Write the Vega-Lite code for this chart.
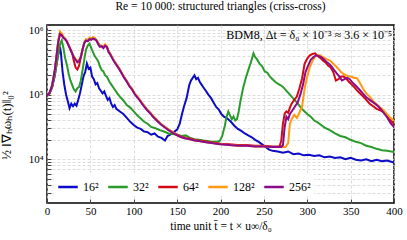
{
"$schema":"https://vega.github.io/schema/vega-lite/v6.json",
"width":347,"height":178,
"autosize":{"type":"none"},
"padding":{"left":47,"top":25,"right":13,"bottom":37},
"title":{"text":"Re = 10 000: structured triangles (criss-cross)","fontSize":11.5,"fontWeight":"normal","font":"Liberation Serif","offset":12,"color":"black"},
"config":{
"font":"Liberation Serif",
"view":{"stroke":"black","strokeWidth":1.5},
"axis":{"domain":false,"labelFont":"Liberation Serif","labelFontSize":11,"labelColor":"black","titleFont":"Liberation Serif","titleFontSize":11.5,"titleFontWeight":"normal","titleColor":"black","gridColor":"#d4d4d4","gridDash":[3,2],"gridWidth":0.8,"tickColor":"#444","tickSize":-4,"labelFlush":false,"labelOverlap":false}
},
"layer":[
{
"data":{"values":[
{"s":"16²","t":0,"v":95500},{"s":"16²","t":3,"v":104700},{"s":"16²","t":6,"v":131800},{"s":"16²","t":9,"v":199500},{"s":"16²","t":12,"v":354800},{"s":"16²","t":14,"v":501200},{"s":"16²","t":15,"v":549500},{"s":"16²","t":16,"v":446700},{"s":"16²","t":18,"v":223900},{"s":"16²","t":20,"v":141300},{"s":"16²","t":22,"v":100000},{"s":"16²","t":24,"v":79400},{"s":"16²","t":26,"v":61700},{"s":"16²","t":28,"v":72400},{"s":"16²","t":30,"v":66100},{"s":"16²","t":32,"v":72400},{"s":"16²","t":34,"v":67600},{"s":"16²","t":36,"v":83200},{"s":"16²","t":38,"v":104700},{"s":"16²","t":40,"v":141300},{"s":"16²","t":42,"v":190500},{"s":"16²","t":44,"v":223900},{"s":"16²","t":46,"v":302000},{"s":"16²","t":48,"v":251200},{"s":"16²","t":50,"v":263000},{"s":"16²","t":52,"v":190500},{"s":"16²","t":54,"v":173800},{"s":"16²","t":56,"v":144500},{"s":"16²","t":58,"v":151400},{"s":"16²","t":60,"v":125900},{"s":"16²","t":62,"v":114800},{"s":"16²","t":64,"v":104700},{"s":"16²","t":66,"v":112200},{"s":"16²","t":68,"v":95500},{"s":"16²","t":70,"v":83200},{"s":"16²","t":72,"v":89100},{"s":"16²","t":74,"v":72400},{"s":"16²","t":76,"v":64600},{"s":"16²","t":78,"v":69200},{"s":"16²","t":80,"v":60300},{"s":"16²","t":84,"v":55000},{"s":"16²","t":88,"v":50100},{"s":"16²","t":92,"v":43700},{"s":"16²","t":96,"v":38000},{"s":"16²","t":100,"v":33900},{"s":"16²","t":104,"v":30900},{"s":"16²","t":108,"v":29500},{"s":"16²","t":112,"v":26900},{"s":"16²","t":116,"v":26300},{"s":"16²","t":120,"v":24000},{"s":"16²","t":124,"v":25100},{"s":"16²","t":128,"v":22400},{"s":"16²","t":132,"v":21400},{"s":"16²","t":136,"v":19500},{"s":"16²","t":139,"v":22900},{"s":"16²","t":142,"v":24000},{"s":"16²","t":146,"v":26300},{"s":"16²","t":150,"v":28800},{"s":"16²","t":153,"v":35500},{"s":"16²","t":156,"v":52500},{"s":"16²","t":158,"v":66100},{"s":"16²","t":161,"v":89100},{"s":"16²","t":164,"v":141300},{"s":"16²","t":166,"v":166000},{"s":"16²","t":168,"v":182000},{"s":"16²","t":170,"v":199500},{"s":"16²","t":172,"v":173800},{"s":"16²","t":174,"v":182000},{"s":"16²","t":176,"v":158500},{"s":"16²","t":178,"v":144500},{"s":"16²","t":180,"v":131800},{"s":"16²","t":183,"v":114800},{"s":"16²","t":186,"v":100000},{"s":"16²","t":189,"v":89100},{"s":"16²","t":192,"v":75900},{"s":"16²","t":195,"v":64600},{"s":"16²","t":198,"v":58900},{"s":"16²","t":201,"v":50100},{"s":"16²","t":204,"v":45700},{"s":"16²","t":208,"v":42700},{"s":"16²","t":212,"v":38000},{"s":"16²","t":216,"v":33100},{"s":"16²","t":220,"v":29500},{"s":"16²","t":224,"v":27500},{"s":"16²","t":228,"v":25100},{"s":"16²","t":232,"v":23400},{"s":"16²","t":236,"v":21900},{"s":"16²","t":240,"v":20000},{"s":"16²","t":244,"v":18600},{"s":"16²","t":248,"v":17000},{"s":"16²","t":252,"v":15500},{"s":"16²","t":256,"v":14100},{"s":"16²","t":260,"v":13500},{"s":"16²","t":266,"v":13200},{"s":"16²","t":272,"v":12600},{"s":"16²","t":278,"v":13200},{"s":"16²","t":284,"v":12000},{"s":"16²","t":290,"v":12300},{"s":"16²","t":296,"v":11500},{"s":"16²","t":302,"v":11700},{"s":"16²","t":308,"v":11200},{"s":"16²","t":314,"v":11500},{"s":"16²","t":320,"v":10700},{"s":"16²","t":326,"v":11000},{"s":"16²","t":332,"v":10500},{"s":"16²","t":338,"v":10700},{"s":"16²","t":344,"v":10000},{"s":"16²","t":350,"v":10500},{"s":"16²","t":356,"v":9800},{"s":"16²","t":362,"v":9550},{"s":"16²","t":368,"v":10000},{"s":"16²","t":374,"v":9330},{"s":"16²","t":380,"v":9800},{"s":"16²","t":386,"v":9330},{"s":"16²","t":392,"v":9550},{"s":"16²","t":400,"v":8910},
{"s":"32²","t":0,"v":95500},{"s":"32²","t":3,"v":104700},{"s":"32²","t":6,"v":131800},{"s":"32²","t":9,"v":199500},{"s":"32²","t":12,"v":354800},{"s":"32²","t":15,"v":602600},{"s":"32²","t":17,"v":691800},{"s":"32²","t":19,"v":524800},{"s":"32²","t":21,"v":363100},{"s":"32²","t":23,"v":288400},{"s":"32²","t":25,"v":208900},{"s":"32²","t":27,"v":166000},{"s":"32²","t":29,"v":141300},{"s":"32²","t":31,"v":120200},{"s":"32²","t":33,"v":112200},{"s":"32²","t":35,"v":125900},{"s":"32²","t":37,"v":131800},{"s":"32²","t":39,"v":166000},{"s":"32²","t":41,"v":239900},{"s":"32²","t":43,"v":354800},{"s":"32²","t":45,"v":501200},{"s":"32²","t":47,"v":575400},{"s":"32²","t":49,"v":616600},{"s":"32²","t":51,"v":524800},{"s":"32²","t":53,"v":457100},{"s":"32²","t":55,"v":398100},{"s":"32²","t":57,"v":363100},{"s":"32²","t":59,"v":331100},{"s":"32²","t":61,"v":275400},{"s":"32²","t":63,"v":239900},{"s":"32²","t":65,"v":229100},{"s":"32²","t":67,"v":199500},{"s":"32²","t":69,"v":190500},{"s":"32²","t":72,"v":158500},{"s":"32²","t":75,"v":138000},{"s":"32²","t":78,"v":120200},{"s":"32²","t":81,"v":104700},{"s":"32²","t":84,"v":93300},{"s":"32²","t":88,"v":81300},{"s":"32²","t":92,"v":69200},{"s":"32²","t":96,"v":63100},{"s":"32²","t":100,"v":55000},{"s":"32²","t":104,"v":47900},{"s":"32²","t":108,"v":42700},{"s":"32²","t":112,"v":38000},{"s":"32²","t":116,"v":35500},{"s":"32²","t":120,"v":31600},{"s":"32²","t":125,"v":30200},{"s":"32²","t":130,"v":28200},{"s":"32²","t":135,"v":26900},{"s":"32²","t":140,"v":25100},{"s":"32²","t":145,"v":24500},{"s":"32²","t":150,"v":24000},{"s":"32²","t":155,"v":22900},{"s":"32²","t":160,"v":23400},{"s":"32²","t":165,"v":21400},{"s":"32²","t":170,"v":20400},{"s":"32²","t":175,"v":20000},{"s":"32²","t":180,"v":19500},{"s":"32²","t":185,"v":19100},{"s":"32²","t":190,"v":18600},{"s":"32²","t":195,"v":18600},{"s":"32²","t":199,"v":19100},{"s":"32²","t":202,"v":22900},{"s":"32²","t":205,"v":33100},{"s":"32²","t":207,"v":45700},{"s":"32²","t":209,"v":55000},{"s":"32²","t":211,"v":47900},{"s":"32²","t":213,"v":41700},{"s":"32²","t":215,"v":45700},{"s":"32²","t":217,"v":39800},{"s":"32²","t":219,"v":41700},{"s":"32²","t":221,"v":55000},{"s":"32²","t":223,"v":79400},{"s":"32²","t":226,"v":125900},{"s":"32²","t":229,"v":177800},{"s":"32²","t":232,"v":239900},{"s":"32²","t":235,"v":316200},{"s":"32²","t":238,"v":436500},{"s":"32²","t":240,"v":380200},{"s":"32²","t":242,"v":354800},{"s":"32²","t":245,"v":302000},{"s":"32²","t":248,"v":275400},{"s":"32²","t":251,"v":229100},{"s":"32²","t":254,"v":218800},{"s":"32²","t":257,"v":190500},{"s":"32²","t":260,"v":173800},{"s":"32²","t":263,"v":158500},{"s":"32²","t":266,"v":147900},{"s":"32²","t":269,"v":141300},{"s":"32²","t":272,"v":131800},{"s":"32²","t":276,"v":114800},{"s":"32²","t":280,"v":100000},{"s":"32²","t":284,"v":87100},{"s":"32²","t":288,"v":75900},{"s":"32²","t":292,"v":64600},{"s":"32²","t":296,"v":56200},{"s":"32²","t":300,"v":50100},{"s":"32²","t":304,"v":45700},{"s":"32²","t":308,"v":39800},{"s":"32²","t":312,"v":37200},{"s":"32²","t":316,"v":33900},{"s":"32²","t":320,"v":30900},{"s":"32²","t":326,"v":28200},{"s":"32²","t":332,"v":25100},{"s":"32²","t":338,"v":22900},{"s":"32²","t":344,"v":21900},{"s":"32²","t":350,"v":20000},{"s":"32²","t":356,"v":18600},{"s":"32²","t":362,"v":17800},{"s":"32²","t":368,"v":16200},{"s":"32²","t":374,"v":15500},{"s":"32²","t":380,"v":14500},{"s":"32²","t":386,"v":13800},{"s":"32²","t":392,"v":13500},{"s":"32²","t":400,"v":12900},
{"s":"64²","t":0,"v":95500},{"s":"64²","t":3,"v":107200},{"s":"64²","t":6,"v":141300},{"s":"64²","t":9,"v":239900},{"s":"64²","t":11,"v":398100},{"s":"64²","t":13,"v":660700},{"s":"64²","t":15,"v":891300},{"s":"64²","t":17,"v":831800},{"s":"64²","t":19,"v":758600},{"s":"64²","t":21,"v":724400},{"s":"64²","t":23,"v":660700},{"s":"64²","t":25,"v":575400},{"s":"64²","t":27,"v":501200},{"s":"64²","t":29,"v":436500},{"s":"64²","t":31,"v":331100},{"s":"64²","t":33,"v":263000},{"s":"64²","t":35,"v":245500},{"s":"64²","t":37,"v":281800},{"s":"64²","t":39,"v":380200},{"s":"64²","t":41,"v":501200},{"s":"64²","t":43,"v":631000},{"s":"64²","t":45,"v":691800},{"s":"64²","t":47,"v":676100},{"s":"64²","t":49,"v":724400},{"s":"64²","t":51,"v":741300},{"s":"64²","t":53,"v":758600},{"s":"64²","t":55,"v":724400},{"s":"64²","t":57,"v":691800},{"s":"64²","t":59,"v":631000},{"s":"64²","t":61,"v":575400},{"s":"64²","t":63,"v":562300},{"s":"64²","t":65,"v":549500},{"s":"64²","t":67,"v":575400},{"s":"64²","t":69,"v":549500},{"s":"64²","t":71,"v":467700},{"s":"64²","t":73,"v":426600},{"s":"64²","t":75,"v":380200},{"s":"64²","t":77,"v":338800},{"s":"64²","t":80,"v":295100},{"s":"64²","t":83,"v":257000},{"s":"64²","t":86,"v":218800},{"s":"64²","t":89,"v":186200},{"s":"64²","t":92,"v":162200},{"s":"64²","t":95,"v":138000},{"s":"64²","t":98,"v":123000},{"s":"64²","t":101,"v":104700},{"s":"64²","t":104,"v":93300},{"s":"64²","t":107,"v":83200},{"s":"64²","t":110,"v":72400},{"s":"64²","t":113,"v":64600},{"s":"64²","t":116,"v":57500},{"s":"64²","t":119,"v":52500},{"s":"64²","t":122,"v":46800},{"s":"64²","t":125,"v":42700},{"s":"64²","t":128,"v":38900},{"s":"64²","t":131,"v":35500},{"s":"64²","t":134,"v":33100},{"s":"64²","t":137,"v":30900},{"s":"64²","t":140,"v":28800},{"s":"64²","t":145,"v":26300},{"s":"64²","t":150,"v":24000},{"s":"64²","t":155,"v":22400},{"s":"64²","t":160,"v":21400},{"s":"64²","t":165,"v":20900},{"s":"64²","t":170,"v":20000},{"s":"64²","t":175,"v":19500},{"s":"64²","t":180,"v":19100},{"s":"64²","t":185,"v":18600},{"s":"64²","t":190,"v":18200},{"s":"64²","t":195,"v":17800},{"s":"64²","t":200,"v":17400},{"s":"64²","t":210,"v":17000},{"s":"64²","t":220,"v":16600},{"s":"64²","t":230,"v":16600},{"s":"64²","t":240,"v":16200},{"s":"64²","t":250,"v":16200},{"s":"64²","t":260,"v":15800},{"s":"64²","t":268,"v":15800},{"s":"64²","t":270,"v":19100},{"s":"64²","t":272,"v":35500},{"s":"64²","t":274,"v":51300},{"s":"64²","t":276,"v":55000},{"s":"64²","t":278,"v":52500},{"s":"64²","t":280,"v":63100},{"s":"64²","t":282,"v":72400},{"s":"64²","t":285,"v":83200},{"s":"64²","t":288,"v":93300},{"s":"64²","t":291,"v":125900},{"s":"64²","t":294,"v":177800},{"s":"64²","t":297,"v":302000},{"s":"64²","t":300,"v":363100},{"s":"64²","t":303,"v":407400},{"s":"64²","t":306,"v":426600},{"s":"64²","t":309,"v":436500},{"s":"64²","t":312,"v":398100},{"s":"64²","t":315,"v":371500},{"s":"64²","t":318,"v":338800},{"s":"64²","t":321,"v":316200},{"s":"64²","t":324,"v":281800},{"s":"64²","t":327,"v":263000},{"s":"64²","t":330,"v":223900},{"s":"64²","t":333,"v":166000},{"s":"64²","t":336,"v":173800},{"s":"64²","t":339,"v":190500},{"s":"64²","t":342,"v":190500},{"s":"64²","t":345,"v":177800},{"s":"64²","t":348,"v":158500},{"s":"64²","t":351,"v":144500},{"s":"64²","t":354,"v":131800},{"s":"64²","t":357,"v":117500},{"s":"64²","t":360,"v":107200},{"s":"64²","t":364,"v":95500},{"s":"64²","t":368,"v":83200},{"s":"64²","t":372,"v":72400},{"s":"64²","t":376,"v":66100},{"s":"64²","t":380,"v":60300},{"s":"64²","t":384,"v":57500},{"s":"64²","t":388,"v":53700},{"s":"64²","t":392,"v":47900},{"s":"64²","t":396,"v":39800},{"s":"64²","t":400,"v":35500},
{"s":"128²","t":0,"v":95500},{"s":"128²","t":3,"v":107200},{"s":"128²","t":6,"v":141300},{"s":"128²","t":9,"v":239900},{"s":"128²","t":11,"v":398100},{"s":"128²","t":13,"v":707900},{"s":"128²","t":15,"v":955000},{"s":"128²","t":17,"v":891300},{"s":"128²","t":19,"v":794300},{"s":"128²","t":21,"v":741300},{"s":"128²","t":23,"v":676100},{"s":"128²","t":25,"v":589000},{"s":"128²","t":27,"v":512900},{"s":"128²","t":29,"v":446700},{"s":"128²","t":31,"v":389000},{"s":"128²","t":33,"v":354800},{"s":"128²","t":35,"v":331100},{"s":"128²","t":37,"v":346700},{"s":"128²","t":39,"v":389000},{"s":"128²","t":41,"v":512900},{"s":"128²","t":43,"v":645700},{"s":"128²","t":45,"v":724400},{"s":"128²","t":47,"v":707900},{"s":"128²","t":49,"v":758600},{"s":"128²","t":51,"v":724400},{"s":"128²","t":53,"v":776200},{"s":"128²","t":55,"v":758600},{"s":"128²","t":57,"v":707900},{"s":"128²","t":59,"v":616600},{"s":"128²","t":61,"v":562300},{"s":"128²","t":63,"v":575400},{"s":"128²","t":65,"v":537000},{"s":"128²","t":67,"v":602600},{"s":"128²","t":69,"v":562300},{"s":"128²","t":71,"v":467700},{"s":"128²","t":73,"v":426600},{"s":"128²","t":75,"v":380200},{"s":"128²","t":77,"v":338800},{"s":"128²","t":80,"v":295100},{"s":"128²","t":83,"v":257000},{"s":"128²","t":86,"v":218800},{"s":"128²","t":89,"v":186200},{"s":"128²","t":92,"v":162200},{"s":"128²","t":95,"v":138000},{"s":"128²","t":98,"v":123000},{"s":"128²","t":101,"v":104700},{"s":"128²","t":104,"v":93300},{"s":"128²","t":107,"v":83200},{"s":"128²","t":110,"v":72400},{"s":"128²","t":113,"v":64600},{"s":"128²","t":116,"v":57500},{"s":"128²","t":119,"v":52500},{"s":"128²","t":122,"v":46800},{"s":"128²","t":125,"v":42700},{"s":"128²","t":128,"v":38900},{"s":"128²","t":131,"v":35500},{"s":"128²","t":134,"v":33100},{"s":"128²","t":137,"v":30900},{"s":"128²","t":140,"v":28800},{"s":"128²","t":145,"v":26300},{"s":"128²","t":150,"v":23400},{"s":"128²","t":155,"v":21900},{"s":"128²","t":160,"v":20900},{"s":"128²","t":165,"v":20400},{"s":"128²","t":170,"v":19500},{"s":"128²","t":175,"v":19100},{"s":"128²","t":180,"v":18600},{"s":"128²","t":185,"v":18200},{"s":"128²","t":190,"v":17800},{"s":"128²","t":195,"v":17400},{"s":"128²","t":200,"v":17000},{"s":"128²","t":210,"v":16600},{"s":"128²","t":220,"v":16200},{"s":"128²","t":230,"v":16200},{"s":"128²","t":240,"v":15800},{"s":"128²","t":250,"v":15800},{"s":"128²","t":260,"v":15500},{"s":"128²","t":270,"v":15500},{"s":"128²","t":275,"v":15500},{"s":"128²","t":278,"v":17800},{"s":"128²","t":280,"v":35500},{"s":"128²","t":282,"v":41700},{"s":"128²","t":285,"v":49000},{"s":"128²","t":288,"v":43700},{"s":"128²","t":291,"v":52500},{"s":"128²","t":294,"v":64600},{"s":"128²","t":297,"v":125900},{"s":"128²","t":300,"v":190500},{"s":"128²","t":303,"v":269200},{"s":"128²","t":306,"v":331100},{"s":"128²","t":309,"v":389000},{"s":"128²","t":312,"v":407400},{"s":"128²","t":315,"v":407400},{"s":"128²","t":318,"v":380200},{"s":"128²","t":321,"v":363100},{"s":"128²","t":324,"v":346700},{"s":"128²","t":327,"v":331100},{"s":"128²","t":330,"v":302000},{"s":"128²","t":333,"v":275400},{"s":"128²","t":336,"v":251200},{"s":"128²","t":339,"v":223900},{"s":"128²","t":342,"v":208900},{"s":"128²","t":345,"v":199500},{"s":"128²","t":348,"v":190500},{"s":"128²","t":351,"v":190500},{"s":"128²","t":354,"v":182000},{"s":"128²","t":357,"v":182000},{"s":"128²","t":360,"v":158500},{"s":"128²","t":364,"v":125900},{"s":"128²","t":368,"v":104700},{"s":"128²","t":372,"v":93300},{"s":"128²","t":376,"v":79400},{"s":"128²","t":380,"v":70800},{"s":"128²","t":384,"v":63100},{"s":"128²","t":388,"v":57500},{"s":"128²","t":392,"v":50100},{"s":"128²","t":396,"v":43700},{"s":"128²","t":400,"v":39800},
{"s":"256²","t":0,"v":95500},{"s":"256²","t":3,"v":107200},{"s":"256²","t":6,"v":141300},{"s":"256²","t":9,"v":239900},{"s":"256²","t":11,"v":398100},{"s":"256²","t":13,"v":660700},{"s":"256²","t":15,"v":871000},{"s":"256²","t":17,"v":831800},{"s":"256²","t":19,"v":758600},{"s":"256²","t":21,"v":724400},{"s":"256²","t":23,"v":660700},{"s":"256²","t":25,"v":575400},{"s":"256²","t":27,"v":501200},{"s":"256²","t":29,"v":436500},{"s":"256²","t":31,"v":380200},{"s":"256²","t":33,"v":346700},{"s":"256²","t":35,"v":316200},{"s":"256²","t":37,"v":331100},{"s":"256²","t":39,"v":380200},{"s":"256²","t":41,"v":501200},{"s":"256²","t":43,"v":631000},{"s":"256²","t":45,"v":691800},{"s":"256²","t":47,"v":676100},{"s":"256²","t":49,"v":724400},{"s":"256²","t":51,"v":707900},{"s":"256²","t":53,"v":741300},{"s":"256²","t":55,"v":724400},{"s":"256²","t":57,"v":691800},{"s":"256²","t":59,"v":602600},{"s":"256²","t":61,"v":549500},{"s":"256²","t":63,"v":562300},{"s":"256²","t":65,"v":524800},{"s":"256²","t":67,"v":575400},{"s":"256²","t":69,"v":549500},{"s":"256²","t":71,"v":457100},{"s":"256²","t":73,"v":416900},{"s":"256²","t":75,"v":371500},{"s":"256²","t":77,"v":331100},{"s":"256²","t":80,"v":288400},{"s":"256²","t":83,"v":251200},{"s":"256²","t":86,"v":213800},{"s":"256²","t":89,"v":182000},{"s":"256²","t":92,"v":158500},{"s":"256²","t":95,"v":134900},{"s":"256²","t":98,"v":120200},{"s":"256²","t":101,"v":102300},{"s":"256²","t":104,"v":91200},{"s":"256²","t":107,"v":81300},{"s":"256²","t":110,"v":70800},{"s":"256²","t":113,"v":63100},{"s":"256²","t":116,"v":56200},{"s":"256²","t":119,"v":51300},{"s":"256²","t":122,"v":45700},{"s":"256²","t":125,"v":41700},{"s":"256²","t":128,"v":38000},{"s":"256²","t":131,"v":34700},{"s":"256²","t":134,"v":32400},{"s":"256²","t":137,"v":30200},{"s":"256²","t":140,"v":28200},{"s":"256²","t":145,"v":25700},{"s":"256²","t":150,"v":23400},{"s":"256²","t":155,"v":21900},{"s":"256²","t":160,"v":20900},{"s":"256²","t":165,"v":20400},{"s":"256²","t":170,"v":19500},{"s":"256²","t":175,"v":19100},{"s":"256²","t":180,"v":18600},{"s":"256²","t":185,"v":18200},{"s":"256²","t":190,"v":17800},{"s":"256²","t":195,"v":17400},{"s":"256²","t":200,"v":17000},{"s":"256²","t":210,"v":16600},{"s":"256²","t":220,"v":16200},{"s":"256²","t":230,"v":16200},{"s":"256²","t":240,"v":15800},{"s":"256²","t":250,"v":15800},{"s":"256²","t":260,"v":15500},{"s":"256²","t":268,"v":15500},{"s":"256²","t":270,"v":15500},{"s":"256²","t":272,"v":16600},{"s":"256²","t":274,"v":31600},{"s":"256²","t":276,"v":45700},{"s":"256²","t":278,"v":41700},{"s":"256²","t":280,"v":50100},{"s":"256²","t":283,"v":57500},{"s":"256²","t":286,"v":66100},{"s":"256²","t":289,"v":75900},{"s":"256²","t":292,"v":100000},{"s":"256²","t":295,"v":141300},{"s":"256²","t":298,"v":223900},{"s":"256²","t":301,"v":281800},{"s":"256²","t":304,"v":346700},{"s":"256²","t":307,"v":380200},{"s":"256²","t":310,"v":407400},{"s":"256²","t":313,"v":398100},{"s":"256²","t":316,"v":380200},{"s":"256²","t":319,"v":354800},{"s":"256²","t":322,"v":323600},{"s":"256²","t":325,"v":302000},{"s":"256²","t":328,"v":275400},{"s":"256²","t":331,"v":239900},{"s":"256²","t":334,"v":213800},{"s":"256²","t":337,"v":190500},{"s":"256²","t":340,"v":166000},{"s":"256²","t":343,"v":173800},{"s":"256²","t":346,"v":182000},{"s":"256²","t":349,"v":173800},{"s":"256²","t":352,"v":154900},{"s":"256²","t":356,"v":138000},{"s":"256²","t":360,"v":120200},{"s":"256²","t":364,"v":104700},{"s":"256²","t":368,"v":91200},{"s":"256²","t":372,"v":83200},{"s":"256²","t":376,"v":75900},{"s":"256²","t":380,"v":69200},{"s":"256²","t":384,"v":61700},{"s":"256²","t":388,"v":52500},{"s":"256²","t":392,"v":44700},{"s":"256²","t":396,"v":36300},{"s":"256²","t":400,"v":31600}
]},
"mark":{"type":"line","strokeWidth":2,"clip":true},
"encoding":{
"x":{"field":"t","type":"quantitative","scale":{"domain":[0,400],"nice":false,"zero":false},"axis":{"values":[0,50,100,150,200,250,300,350,400],"title":"time unit t̄ = t × u∞/δ₀","labelPadding":6,"titlePadding":4}},
"y":{"field":"v","type":"quantitative","scale":{"type":"log","domain":[2100,1200000],"nice":false},"axis":{"values":[3000,4000,5000,6000,7000,8000,9000,10000,20000,30000,40000,50000,60000,70000,80000,90000,100000,200000,300000,400000,500000,600000,700000,800000,900000,1000000],"labelExpr":"datum.value == 10000 ? '10⁴' : datum.value == 100000 ? '10⁵' : datum.value == 1000000 ? '10⁶' : ''","title":"½ ‖∇ₕωₕ(t)‖₀²","titleFontSize":13,"labelPadding":8,"titleX":-34,"titleY":100}},
"color":{"field":"s","type":"nominal","scale":{"domain":["16²","32²","64²","128²","256²"],"range":["#0b0bc8","#2a9a2a","#d20a14","#ff9a10","#8a0a8a"]},"legend":{"title":null,"orient":"bottom-left","direction":"horizontal","offset":7,"fillColor":"white","padding":3,"symbolType":"stroke","symbolStrokeWidth":2.5,"symbolSize":380,"labelFontSize":12,"labelFont":"Liberation Serif","labelColor":"black","columnPadding":4}}
}
},
{
"data":{"values":[{"t":398,"v":840000,"label":"BDM8, Δt = δ₀ × 10⁻³ ≈ 3.6 × 10⁻⁵"}]},
"mark":{"type":"text","align":"right","baseline":"middle","fontSize":12,"font":"Liberation Serif","color":"black"},
"encoding":{"x":{"field":"t","type":"quantitative"},"y":{"field":"v","type":"quantitative"},"text":{"field":"label"}}
}
]
}
